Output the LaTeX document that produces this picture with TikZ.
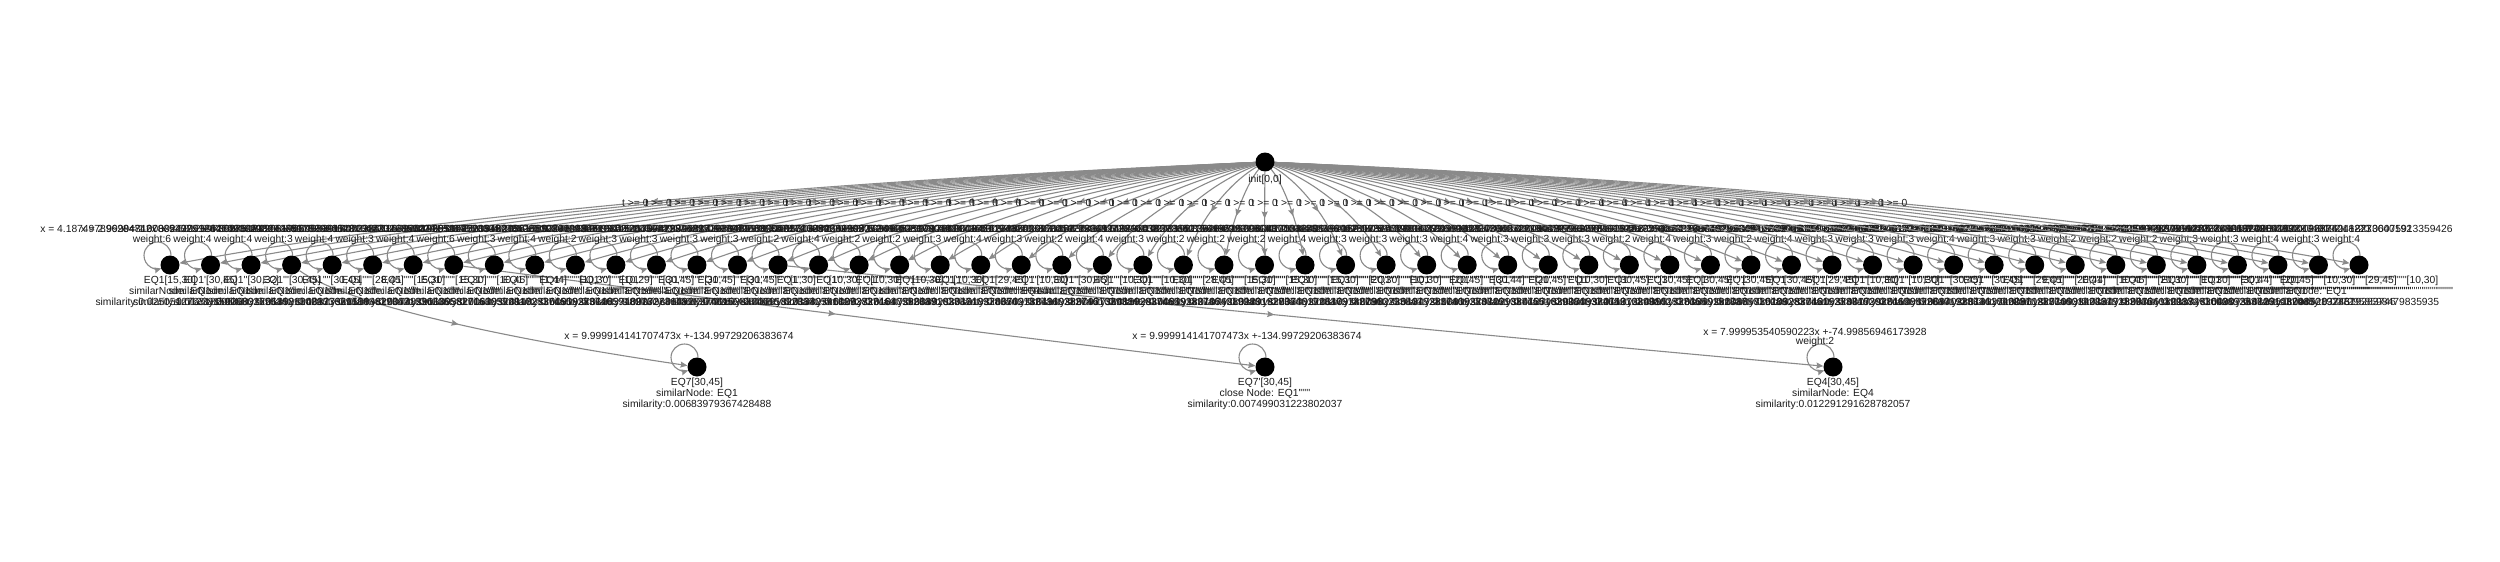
\documentclass[tikz,border=0pt]{standalone}
\usepackage{fontspec}
\newfontfamily\labfont{Liberation Sans}
\usetikzlibrary{arrows.meta,decorations.markings,calc}
\definecolor{edgec}{HTML}{8A8A8A}
\definecolor{txtc}{HTML}{1A1A1A}
\pgfdeclarelayer{edgelayer}
\pgfsetlayers{edgelayer,main}
\tikzset{
  gnode/.style={circle,fill=black,draw=none,inner sep=0pt,minimum size=19pt},
  txt/.style={font=\labfont\fontsize{10.3}{11}\selectfont,text=txtc,inner sep=0pt},
  edgeline/.style={color=edgec,line width=1.1pt,-{Stealth[length=7pt,width=6pt,inset=1pt]}},
  midarrow/.style={postaction={decorate},decoration={markings,mark=at position #1 with {\arrow{Stealth[length=7pt,width=6pt,inset=1pt]}}}},
}
\begin{document}
\begin{tikzpicture}[x=1pt,y=1pt]
\useasboundingbox (0,0) rectangle (2500,-562);
% root
\node[gnode] (root) at (1265,-162) {};
\node[txt,anchor=base] (rootlab) at (1265,-182.5) {init[0,0]};
% first level
\gdef\pr{}
\foreach \i/\va/\vb/\vw/\vs/\vc/\vm in {
0/15/30/6/4.187497896284742/-52.81259736285024/0.02505127631829643,
1/30/45/4/2.999948167839402/-44.99761832651908/0.012381592680265534,
2/30/32/4/1.000024375128469/-29.99817264530917/0.009831726458130293,
3/30/45/3/5.999862749182036/-89.99520164732859/0.013926048173629184,
4/30/45/4/3.000061829473615/-45.00238471659203/0.008273615094827362,
5/28/45/3/2.142851773926048/-27.85704318265917/0.011836290471836205,
6/15/30/4/7.999936281547302/-74.99851037265482/0.007482916305827163,
7/15/30/6/4.000042316859274/-35.00194827361509/0.010938271640592817,
8/10/45/3/1.428567391826405/-4.285617392046158/0.006283749102837465,
9/1/44/4/0.697674523819046/0.302318492716305/0.014827361509283746,
10/10/30/2/2.000017384926103/-9.999830172645921/0.009182736405918273,
11/10/29/3/1.052631284719365/-0.526309473816295/0.012637489102736481,
12/30/45/3/5.000028461937251/-74.99958172630485/0.008736410928374615,
13/30/45/3/9.999914141707473/-134.99729206383674/0.00683979367428488,
14/30/45/3/6.000042917385106/-89.99872615309472/0.011028374615092837,
15/1/30/2/0.344827193648217/0.655173926481037/0.007918273640591827,
16/10/30/4/4.999971638204817/-39.99852716349082/0.013827461092837461,
17/10/30/2/2.000009371625483/-9.999962815370264/0.009637281640592837,
18/10/30/2/3.000048261937052/-19.99917362841057/0.010472836491028374,
19/10/30/3/1.999982736410583/-10.00027391648205/0.008928374610928374,
20/29/45/4/6.249962817304916/-83.12438926170452/0.012183746509182736,
21/10/30/3/2.000031847261905/-10.00018273649216/0.007627384910283746,
22/30/45/2/8.000041627385019/-104.99918273640158/0.011493827461029384,
23/10/30/4/2.999971836205471/-19.99948162730591/0.009273648192037465,
24/10/30/3/1.500018273649102/-4.999819273640581/0.013028374619283746,
25/28/45/2/5.882317462910385/-81.35284716293048/0.008491827364019283,
26/15/30/2/3.333301827364015/-29.99962837104628/0.010762839401928374,
27/15/30/2/3.333352716480293/-30.00082736491027/0.012918273640192837,
28/15/30/4/3.999961827364102/-44.99871629305817/0.007382716409182736,
29/20/30/3/10.00004172836491/-159.99827364019283/0.011637482910293847,
30/10/30/3/2.000018273649105/-9.999981726350491/0.009827364019283746,
31/20/45/3/2.399962817364028/-32.99916283740516/0.013472816409283746,
32/30/44/4/7.142816392047581/-113.57081726394052/0.008163748291037465,
33/20/45/3/1.200027364910284/-9.000283746192037/0.010293847561029384,
34/10/30/3/1.999918273640582/-9.999827364015273/0.012748392018374652,
35/30/45/3/6.000037261849027/-89.99901827364015/0.007093827461029384,
36/30/45/2/4.000018273640591/-59.99938271640582/0.011372849102837465,
37/30/45/4/9.999962817304928/-134.99873625104827/0.009517283640192837,
38/30/45/3/5.999928736401827/-74.99817263540918/0.013692817465019283,
39/30/45/2/3.000072816304928/-44.99983746102837/0.008847361092837461,
40/29/45/4/2.500018273649102/-35.99827364019283/0.010628374619283746,
41/10/30/3/2.999981726304918/-19.99927364018275/0.012063748192037465,
42/10/30/3/1.000028364019283/-0.000172836401928/0.007739281640592837,
43/30/45/3/8.000018273649102/-119.99871624305918/0.011284736401928374,
44/30/45/4/3.999981726304918/-54.99827361904827/0.009402837461092837,
45/29/45/3/2.499927364018273/-36.00061827364018/0.013137462910283746,
46/20/44/3/1.333318273640192/-4.999826374019283/0.008618273640192837,
47/10/45/2/1.142837264019283/0.285716283740192/0.010938472619283746,
48/20/30/2/2.999962817304918/-29.99827364019283/0.012471829364019283,
49/10/30/2/1.999936281740295/-9.999918273640192/0.007261829374610928,
50/30/44/3/7.142873640192837/-105.71328374019283/0.011827364019283746,
51/20/45/3/1.599982736401928/-6.999837264019283/0.009073648291037465,
52/10/30/4/1.999972836401928/-10.00026374018273/0.013361829470192837,
53/29/45/3/6.249918273640192/-80.62418273640192/0.008528374619283746,
54/10/30/4/3.000016283740192/-20.00075913359426/0.0072958598479835935}{
  \pgfmathsetmacro\xx{170+\i*40.537}
  \pgfmathsetmacro\cx{1265+0.65*(\xx-1265)}
  \node[gnode] (n\i) at (\xx,-265) {};
  \node[txt,anchor=base] (na\i) at (\xx,-283.7) {EQ1\pr[\va,\vb]};
  \node[txt,anchor=base] (nb\i) at (\xx,-294.6) {similarNode: EQ1\pr};
  \node[txt,anchor=base] (nc\i) at (\xx,-305.5) {similarity:\vm};
  \begin{pgfonlayer}{edgelayer}
    \draw[edgeline,midarrow=0.56] (root) .. controls ($(root)!0.6667!(\cx,-193)$) and ($(n\i)!0.6667!(\cx,-193)$) .. (n\i) node[txt,pos=0.5] {t >= 0};
    \draw[edgeline] ($(n\i)+(1,9.5)$) arc[start angle=0,end angle=286,radius=13.5];
    \node[txt] (lx\i) at ($(n\i)+(-18,36.5)$) {x = \vs x +\vc};
    \node[txt] (lw\i) at ($(n\i)+(-18,25.5)$) {weight:\vw};
  \end{pgfonlayer}
  \xdef\pr{\pr'}
}
% second level
\node[gnode] (b1) at (697,-367) {};
\node[txt,anchor=base] (b1a) at (697,-385.5) {EQ7[30,45]};
\node[txt,anchor=base] (b1b) at (697,-396.3) {similarNode: EQ1};
\node[txt,anchor=base] (b1c) at (697,-407) {similarity:0.00683979367428488};
\node[gnode] (b2) at (1265,-367) {};
\node[txt,anchor=base] (b2a) at (1265,-385.5) {EQ7'[30,45]};
\node[txt,anchor=base] (b2b) at (1265,-396.3) {close Node: EQ1''''''};
\node[txt,anchor=base] (b2c) at (1265,-407) {similarity:0.007499031223802037};
\node[gnode] (b3) at (1833,-367) {};
\node[txt,anchor=base] (b3a) at (1833,-385.5) {EQ4[30,45]};
\node[txt,anchor=base] (b3b) at (1833,-396.3) {similarNode: EQ4};
\node[txt,anchor=base] (b3c) at (1833,-407) {similarity:0.012291291628782057};
\begin{pgfonlayer}{edgelayer}
  \foreach \b in {b1,b2,b3}{
    \draw[edgeline] ($(\b)+(1,9.5)$) arc[start angle=0,end angle=286,radius=13.5];
  }
  \node[txt] (b1x) at ($(b1)+(-18,31)$) {x = 9.999914141707473x +-134.99729206383674};
  \node[txt] (b2x) at ($(b2)+(-18,31)$) {x = 9.999914141707473x +-134.99729206383674};
  \node[txt] (b3x) at ($(b3)+(-18,35.5)$) {x = 7.999953540590223x +-74.99856946173928};
  \node[txt] (b3w) at ($(b3)+(-18,25.5)$) {weight:2};
  \draw[edgeline,midarrow=0.42] (n3) .. controls ($(n3)!0.6667!(365.7,-318)$) and ($(b1)!0.6667!(365.7,-318)$) .. (b1);
  \draw[edgeline,midarrow=0.47] (n7) .. controls ($(n7)!0.6667!(850.6,-317)$) and ($(b2)!0.6667!(850.6,-317)$) .. (b2);
  \draw[edgeline,midarrow=0.47] (n15) .. controls ($(n15)!0.6667!(1290.5,-318)$) and ($(b3)!0.6667!(1290.5,-318)$) .. (b3);
\end{pgfonlayer}
\end{tikzpicture}
\end{document}
